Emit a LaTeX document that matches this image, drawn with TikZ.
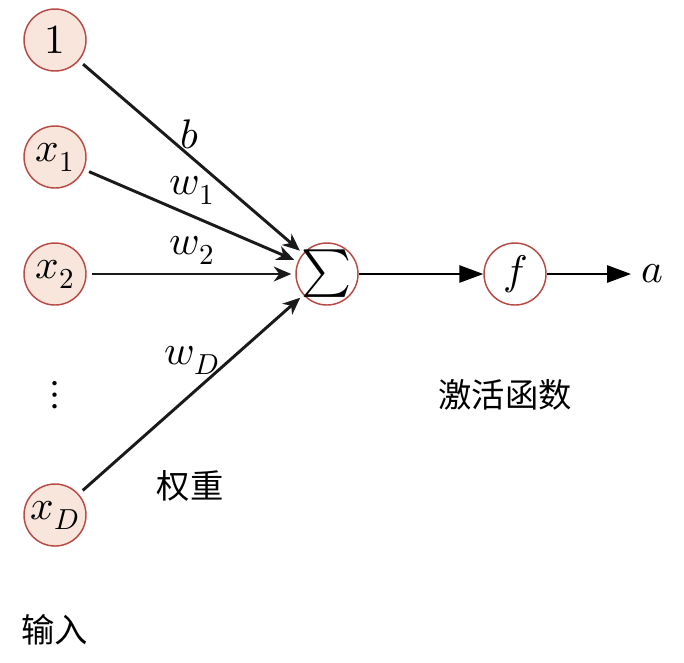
\documentclass[tikz,border=0pt]{standalone}
\usepackage{fontspec}
\usepackage{unicode-math}
\newfontfamily\cjk{Noto Sans CJK SC}
\usetikzlibrary{arrows.meta}

\definecolor{nodeRed}{RGB}{184,74,69}
\definecolor{nodeFill}{RGB}{248,230,220}

\tikzset{every picture/.style={line width=0.75pt}}
\tikzset{
  neuron/.style={circle, draw=nodeRed, line width=1.1pt, minimum size=46.5pt, inner sep=0pt, font=\fontsize{31}{36}\selectfont},
  inneuron/.style={neuron, fill=nodeFill},
  lbl/.style={inner sep=0.75pt, font=\fontsize{31}{36}\selectfont},
  cjklbl/.style={inner sep=0.75pt, font=\fontsize{25}{30}\selectfont\cjk},
  wline/.style={line width=2.2pt, draw={rgb,255:red,26;green,26;blue,26}, -{Stealth[length=13pt,width=11pt,inset=4pt]}, shorten <=4pt, shorten >=3pt},
  oline/.style={line width=1.3pt, -{Triangle[length=18pt,width=13pt]}}
}

\begin{document}
\begin{tikzpicture}[x=0.75pt,y=0.75pt,yscale=-1,xscale=1]
\useasboundingbox (0,0) rectangle (684,662);

% Input nodes
\node [inneuron] (one) at (55,40) {$1$};
\node [inneuron] (xone) at (55,157) {$x_1$};
\node [inneuron] (xtwo) at (55,274) {$x_2$};
\node [lbl] (vdots) at (55,395) {$\boldsymbol{\vdots}$};
\node [inneuron] (xD) at (55,515) {$x_D$};

% Sum and activation
\node [neuron, inner sep=-4pt] (sum) at (327,274) {\scalebox{1.15}{$\sum$}};
\node [neuron] (act) at (515,274) {$f$};
\node [lbl, anchor=west] (out) at (640,274) {$a$};
\coordinate (outend) at (631,274);

% Weighted connections
\draw [wline] (one) -- (sum);
\draw [wline] (xone) -- (sum);
\draw [wline] (xtwo) -- (sum);
\draw [wline] (xD) -- (sum);

% Output connections
\draw [oline] (sum) -- (act);
\draw [oline] (act) -- (outend);

% Text Node
\node [lbl] (bias) at (190,134) {$b$};
\node [lbl] (wone) at (192,190) {$w_1$};
\node [lbl] (wtwo) at (192,250) {$w_2$};
\node [lbl] (wD) at (192,360) {$w_D$};
\node [cjklbl] (weights) at (190,486) {权重};
\node [cjklbl] (actname) at (505,395) {激活函数};
\node [cjklbl] (inputs) at (55,630) {输入};

\end{tikzpicture}
\end{document}
